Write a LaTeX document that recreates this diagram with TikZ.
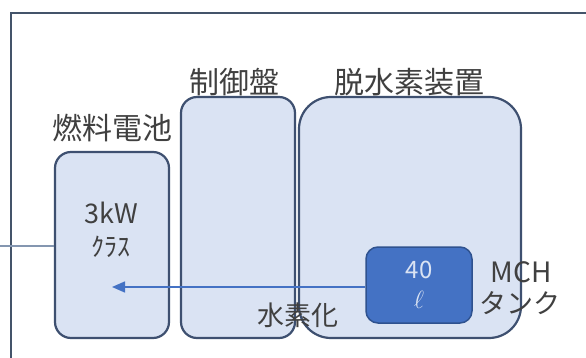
\documentclass[tikz,border=0pt]{standalone}
\usepackage{fontspec}
\newfontfamily\jp{Noto Sans CJK JP}
\usetikzlibrary{arrows.meta}
\definecolor{boxfill}{HTML}{DAE3F3}
\definecolor{boxline}{HTML}{3E5070}
\definecolor{tankfill}{HTML}{4472C4}
\definecolor{tankline}{HTML}{2F528F}
\definecolor{txt}{HTML}{404040}
\definecolor{frameline}{HTML}{44546A}
\definecolor{feedline}{HTML}{8496B0}
\tikzset{
  unit/.style={draw=boxline, fill=boxfill, line width=2.2pt, inner sep=0pt},
  tankbox/.style={draw=tankline, fill=tankfill, line width=1.5pt, inner sep=0pt, rounded corners=12pt},
  lbl/.style={text=txt, inner sep=0pt, font=\jp\fontsize{30}{32}\selectfont},
  sublbl/.style={text=txt, inner sep=0pt, font=\jp\fontsize{27}{29}\selectfont},
}
\begin{document}
\begin{tikzpicture}[x=1pt,y=-1pt]
\useasboundingbox[fill=white] (0,0) rectangle (586,358);
% frame
\coordinate (fbl) at (11,358);
\coordinate (ftl) at (11,13);
\coordinate (ftr) at (586,13);
\draw[frameline, line width=2pt] (fbl) -- (ftl) -- (ftr);
% boxes
\node[unit, rounded corners=16pt, minimum width=114pt, minimum height=186pt] (fc) at (112,245) {};
\node[unit, rounded corners=16pt, minimum width=114pt, minimum height=241pt] (cp) at (238,217.5) {};
\node[unit, rounded corners=32pt, minimum width=222pt, minimum height=241pt] (dh) at (410,217.5) {};
\node[tankbox, minimum width=106pt, minimum height=76pt] (tank) at (419,285) {};
% feed line
\coordinate (feed) at (0,246);
\draw[feedline, line width=1.3pt] (feed) -- (feed -| fc.west);
% arrow
\coordinate (tip) at (112,287);
\draw[tankfill, line width=1.5pt, -{Triangle[length=13pt,width=11pt]}] (tank.west |- tip) -- (tip);
% labels
\node[lbl] (l1) at (112,128) {燃料電池};
\node[lbl] (l2) at (234,82) {制御盤};
\node[lbl] (l3) at (409,82) {脱水素装置};
\node[text=txt, inner sep=0pt, font=\jp\fontsize{27}{29}\selectfont] (kw) at (111,213) {3kW};
\node[text=txt, inner sep=0pt, font=\jp\fontsize{26}{28}\selectfont] (cls) at (111,247) {ｸﾗｽ};
\node[text=boxfill, inner sep=0pt, font=\jp\fontsize{24}{26}\selectfont] (v40) at (419,270) {40};
\node[text=boxfill, inner sep=0pt, font=\fontsize{24}{26}\selectfont] (ltr) at (419,300) {$\ell$};
\node[sublbl, font=\jp\fontsize{28}{30}\selectfont] (mch) at (521,272) {MCH};
\node[sublbl] (tk) at (520,303) {タンク};
\node[sublbl] (h2) at (298,315) {水素化};
\end{tikzpicture}
\end{document}
